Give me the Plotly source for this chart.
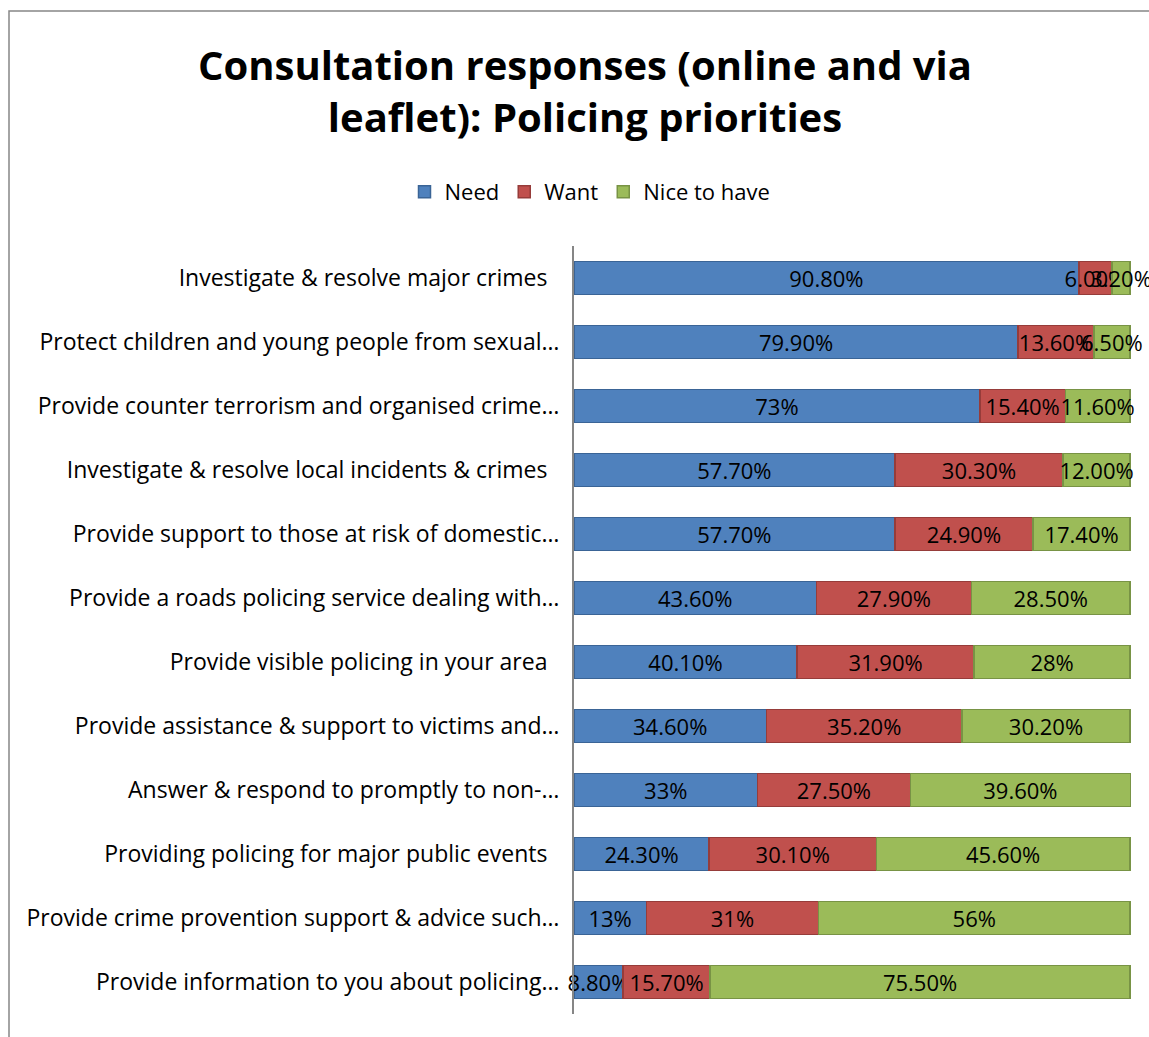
import plotly.graph_objects as go

categories = [
    "Investigate & resolve major crimes\u00a0\u00a0",
    "Protect children and young people from sexual…",
    "Provide counter terrorism and organised crime…",
    "Investigate & resolve local incidents & crimes\u00a0\u00a0",
    "Provide support to those at risk of domestic…",
    "Provide a roads policing service dealing with…",
    "Provide visible policing in your area\u00a0\u00a0",
    "Provide assistance & support to victims and…",
    "Answer & respond to promptly to non-…",
    "Providing policing for major public events\u00a0\u00a0",
    "Provide crime provention support & advice such…",
    "Provide information to you about policing…",
]
need = [90.8, 79.9, 73, 57.7, 57.7, 43.6, 40.1, 34.6, 33, 24.3, 13, 8.8]
want = [6.0, 13.6, 15.4, 30.3, 24.9, 27.9, 31.9, 35.2, 27.5, 30.1, 31, 15.7]
nice = [3.2, 6.5, 11.6, 12.0, 17.4, 28.5, 28, 30.2, 39.6, 45.6, 56, 75.5]
need_lbl = ["90.80%", "79.90%", "73%", "57.70%", "57.70%", "43.60%", "40.10%", "34.60%", "33%", "24.30%", "13%", "8.80%"]
want_lbl = ["6.00%", "13.60%", "15.40%", "30.30%", "24.90%", "27.90%", "31.90%", "35.20%", "27.50%", "30.10%", "31%", "15.70%"]
nice_lbl = ["3.20%", "6.50%", "11.60%", "12.00%", "17.40%", "28.50%", "28%", "30.20%", "39.60%", "45.60%", "56%", "75.50%"]

series = [
    ("Need", need, need_lbl, "#4F81BD", "#3A6496"),
    ("Want", want, want_lbl, "#C0504D", "#963C3A"),
    ("Nice to have", nice, nice_lbl, "#9BBB59", "#789345"),
]

FONT = "Open Sans"
fig = go.Figure()
for name, vals, lbls, col, edge in series:
    fig.add_trace(go.Bar(
        y=categories, x=vals, name=name, orientation="h",
        text=lbls, textposition="inside", insidetextanchor="middle",
        constraintext="none", textangle=0, cliponaxis=False,
        textfont=dict(family=FONT, size=22, color="black"),
        marker=dict(color=col, line=dict(color=edge, width=1.5)),
        width=0.52,
    ))

plot_left, plot_right = 574, 1131
plot_top, plot_bottom = 246, 1014
W, H = 1149, 1037
pw = plot_right - plot_left
ph = plot_bottom - plot_top

fig.update_layout(
    width=W, height=H,
    barmode="stack",
    paper_bgcolor="white", plot_bgcolor="white",
    margin=dict(l=plot_left, r=W - plot_right, t=plot_top, b=H - plot_bottom, pad=0),
    title=dict(
        text="<b>Consultation responses (online and via<br>leaflet): Policing priorities</b>",
        x=585 / W, xanchor="center", y=1 - 80 / H, yanchor="middle",
        font=dict(family=FONT, size=40, color="black"),
    ),
    legend=dict(
        orientation="h", x=(590 - plot_left) / pw, xanchor="center",
        y=(plot_bottom - 192) / ph, yanchor="middle",
        font=dict(family=FONT, size=22, color="black"),
        traceorder="normal", itemwidth=30,
    ),
    xaxis=dict(range=[0, 100.2], visible=False, showgrid=False, zeroline=False),
    yaxis=dict(
        autorange="reversed", showline=True, linecolor="#868686", linewidth=2,
        ticks="", ticklabelstandoff=8,
        tickfont=dict(family=FONT, size=23, color="black"),
        showgrid=False,
    ),
    bargap=0.48,
)

fig.add_shape(
    type="rect", xref="paper", yref="paper",
    x0=(9 - plot_left) / pw, x1=(1200 - plot_left) / pw,
    y0=(plot_bottom - 1100) / ph, y1=(plot_bottom - 11) / ph,
    line=dict(color="#868686", width=1.5), fillcolor="rgba(0,0,0,0)", layer="below",
)

fig.write_html("out.html")
